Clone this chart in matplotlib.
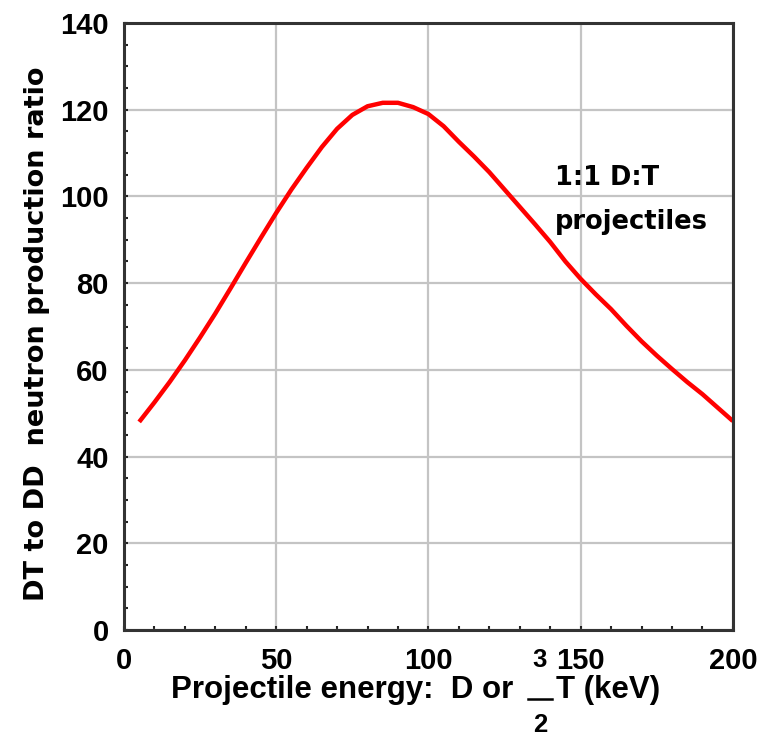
import matplotlib
matplotlib.use("Agg")
import matplotlib.pyplot as plt
from matplotlib.ticker import MultipleLocator
from matplotlib.lines import Line2D

plt.rcParams['font.family'] = ['DejaVu Sans']

energy = [5, 10, 15, 20, 25, 30, 35, 40, 45, 50, 55, 60, 65, 70, 75, 80, 85, 90,
          95, 100, 105, 110, 115, 120, 125, 130, 135, 140, 145, 150, 155, 160,
          165, 170, 175, 180, 185, 190, 195, 200]
ratio = [48, 52.5, 57.2, 62.2, 67.5, 73, 78.8, 84.7, 90.5, 96.2, 101.6, 106.6,
         111.4, 115.6, 118.8, 120.8, 121.6, 121.6, 120.6, 119, 116.2, 112.6,
         109.2, 105.6, 101.6, 97.6, 93.6, 89.5, 85.0, 81.0, 77.4, 74.0, 70.2,
         66.6, 63.3, 60.2, 57.2, 54.4, 51.3, 48.2]
x_ticks = [0, 50, 100, 150, 200]
y_ticks = [0, 20, 40, 60, 80, 100, 120, 140]

W, H = 769, 738
fig = plt.figure(figsize=(W / 100, H / 100), dpi=100)
ax = fig.add_axes([0.1612, 0.1463, 0.953 - 0.1612, 0.9688 - 0.1463])


def fp(x, y):
    """pixel (from top-left) -> figure fraction"""
    return x / W, 1 - y / H


ax.plot(energy, ratio, color='#ff0000', lw=3.2, solid_joinstyle='round',
        solid_capstyle='butt')

ax.set_xlim(0, 200)
ax.set_ylim(0, 140)
ax.set_xticks(x_ticks)
ax.set_yticks(y_ticks)
ax.xaxis.set_minor_locator(MultipleLocator(10))
ax.yaxis.set_minor_locator(MultipleLocator(5))
ax.grid(True, which='major', color='#c4c4c4', lw=1.6)
ax.set_axisbelow(True)

ax.tick_params(which='both', direction='in', top=False, right=False,
               color='#222222')
ax.tick_params(which='major', length=3, width=1.5, labelsize=21)
ax.tick_params(axis='x', which='major', pad=12)
ax.tick_params(axis='y', which='major', pad=11)
ax.tick_params(which='minor', length=3, width=1.5)
for lab in ax.get_xticklabels() + ax.get_yticklabels():
    lab.set_fontweight('bold')
    lab.set_family('Liberation Sans')

for sp in ax.spines.values():
    sp.set_color('#333333')
    sp.set_linewidth(2.2)

ax.set_ylabel('DT to DD  neutron production ratio', fontsize=19.5,
              fontweight='bold', va='center')
ax.yaxis.set_label_coords(-0.142, 0.4885)

# x-axis label built from pieces so the stacked fraction 3/2 can be drawn
lab_kw = dict(fontsize=22.5, fontweight='bold', family='Liberation Sans',
              va='baseline')
fig.text(*fp(513, 698), 'Projectile energy:  D or', ha='right', **lab_kw)
cx = 540
frac_kw = dict(fontsize=18.5, fontweight='bold', family='Liberation Sans',
               ha='center', va='baseline')
fig.text(*fp(cx, 667), '3', **frac_kw)
fig.text(*fp(cx, 732), '2', **frac_kw)
x0, y0 = fp(cx - 12, 699)
x1, _ = fp(cx + 12, 699)
fig.add_artist(Line2D([x0, x1], [y0, y0], transform=fig.transFigure,
                      color='black', lw=1.8))
fig.text(*fp(556, 698), 'T (keV)', ha='left', **lab_kw)

ax.text(141.5, 102.6, '1:1 D:T', fontsize=18.5, fontweight='bold',
        va='baseline', ha='left')
ax.text(141.5, 92.5, 'projectiles', fontsize=18.5, fontweight='bold',
        va='baseline', ha='left')

fig.savefig('out.png', dpi=100)
